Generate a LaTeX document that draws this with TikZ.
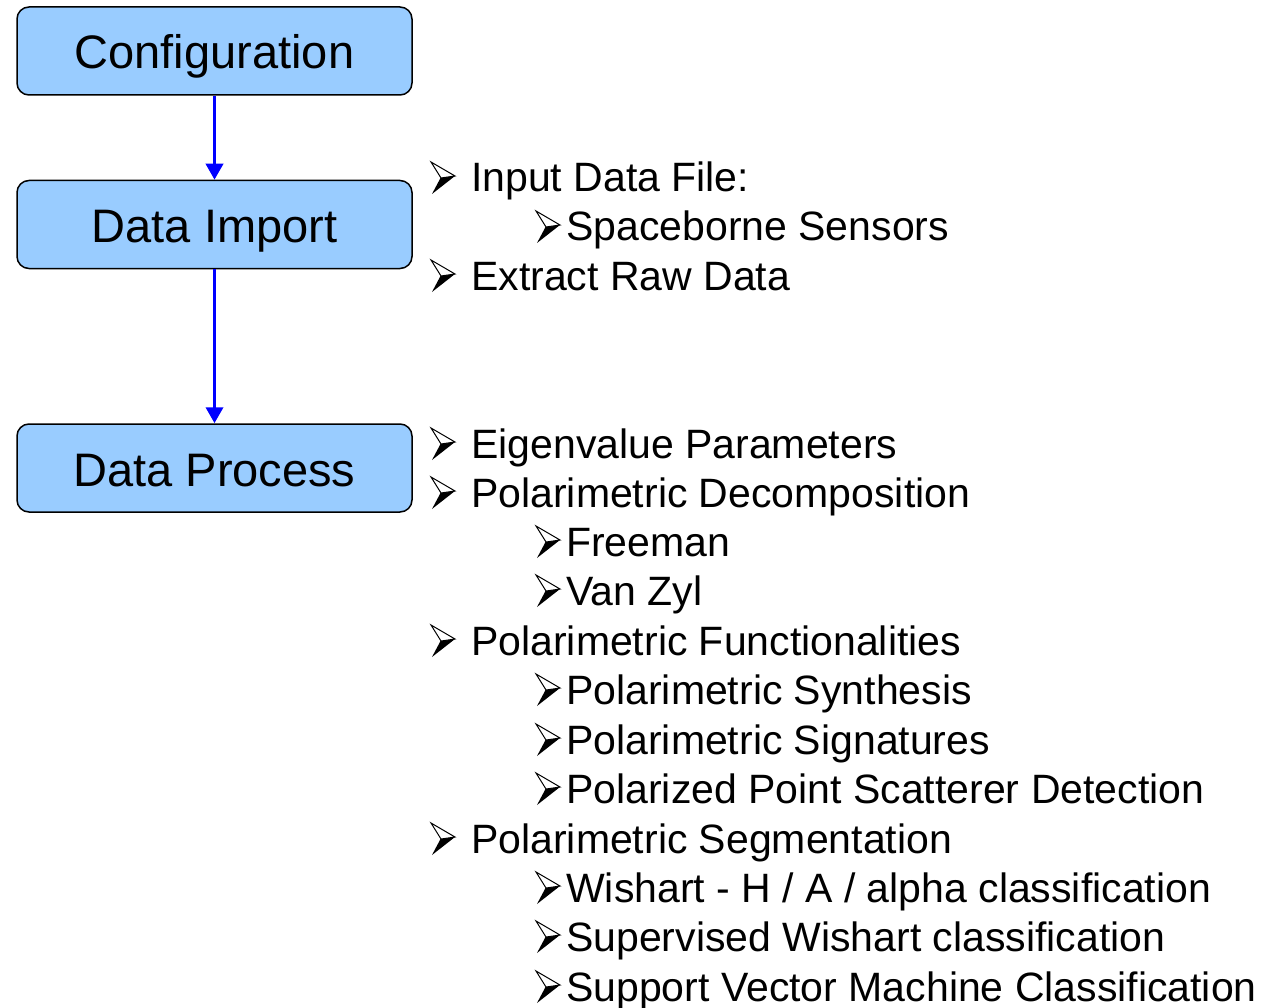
\documentclass[tikz,border=0pt]{standalone}
\usepackage{fontspec}
\setmainfont{Liberation Sans}
\usetikzlibrary{arrows.meta}
\definecolor{boxfill}{HTML}{99CCFF}
\definecolor{arrowblue}{RGB}{0,0,255}
\tikzset{
  flowbox/.style={draw=black, line width=1.5pt, fill=boxfill, rounded corners=12pt,
    minimum width=395pt, minimum height=88pt, inner sep=0pt,
    text height=36pt, text depth=0pt,
    font=\fontsize{47}{52}\selectfont},
  flowarrow/.style={draw=arrowblue, line width=3.6pt, -{Triangle[width=17pt,length=16pt]}},
  itemtext/.style={anchor=base west, inner sep=0pt, font=\fontsize{41}{48}\selectfont},
  pics/bulletdart/.style={code={
    \fill[black, line join=miter] (10.5,-14) -- (25,-16) -- (2,2) -- cycle;
    \filldraw[fill=white, draw=black, line width=1pt, line join=miter] (1,-30) -- (25,-16) -- (11,-14) -- cycle;
  }}
}
\begin{document}
\begin{tikzpicture}[x=1pt, y=-1pt]
\useasboundingbox (0,0) rectangle (1268,1008);
\node[flowbox] (conf) at (214.5,51) {Configuration};
\node[flowbox] (imp) at (214.5,224.5) {Data Import};
\node[flowbox] (proc) at (214.5,468) {Data Process};
\draw[flowarrow] (conf.south) -- (imp.north);
\draw[flowarrow] (imp.south) -- (proc.north);
% Data Import items
\pic at (430,192) {bulletdart};
\node[itemtext] (it1) at (471,192) {Input Data File:};
\pic at (535,241) {bulletdart};
\node[itemtext] (it2) at (566,241) {Spaceborne Sensors};
\pic at (430,290) {bulletdart};
\node[itemtext] (it3) at (471,290) {Extract Raw Data};
% Data Process items
\pic at (430,458) {bulletdart};
\node[itemtext] (pt1) at (471,458) {Eigenvalue Parameters};
\pic at (430,507) {bulletdart};
\node[itemtext] (pt2) at (471,507) {Polarimetric Decomposition};
\pic at (535,556) {bulletdart};
\node[itemtext] (pt3) at (566,556) {Freeman};
\pic at (535,605) {bulletdart};
\node[itemtext] (pt4) at (566,605) {Van Zyl};
\pic at (430,655) {bulletdart};
\node[itemtext] (pt5) at (471,655) {Polarimetric Functionalities};
\pic at (535,704) {bulletdart};
\node[itemtext] (pt6) at (566,704) {Polarimetric Synthesis};
\pic at (535,754) {bulletdart};
\node[itemtext] (pt7) at (566,754) {Polarimetric Signatures};
\pic at (535,803) {bulletdart};
\node[itemtext] (pt8) at (566,803) {Polarized Point Scatterer Detection};
\pic at (430,853) {bulletdart};
\node[itemtext] (pt9) at (471,853) {Polarimetric Segmentation};
\pic at (535,902) {bulletdart};
\node[itemtext] (pt10) at (566,902) {Wishart - H / A / alpha classification};
\pic at (535,951) {bulletdart};
\node[itemtext] (pt11) at (566,951) {Supervised Wishart classification};
\pic at (535,1001) {bulletdart};
\node[itemtext] (pt12) at (566,1001) {Support Vector Machine Classification};
\end{tikzpicture}
\end{document}
